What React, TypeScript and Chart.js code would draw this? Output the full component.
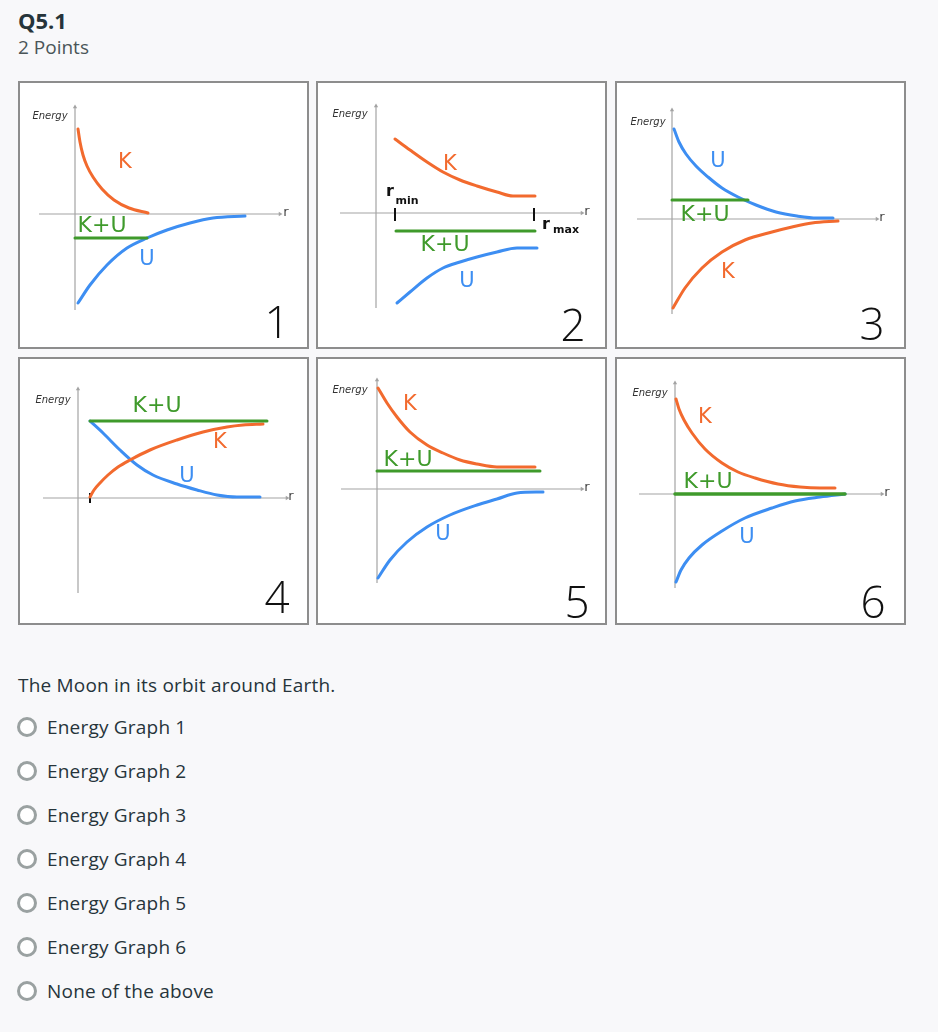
import React, { useEffect, useRef } from "react";
import { Chart, registerables } from "chart.js";

Chart.register(...registerables);

const ORANGE = "#f26a2e";
const BLUE = "#3d8ef2";
const GREEN = "#3f9a2b";
const AXIS = "#a3a3a3";
const INK = "#111111";

const LBL = "21px 'DejaVu Sans'";
const SUM_LBL = "22px 'DejaVu Sans'";
const ENERGY_FONT = "italic 10px 'DejaVu Sans'";
const NUM_FONT = "300 44px 'Open Sans'";
const R_FONT = "13px 'DejaVu Sans'";

// ---------- Graph 1 ----------
const p1K = [[3, 85], [5, 72], [8, 59], [12, 48], [18, 37], [27, 25], [39, 14], [54, 6], [73, 1]];
const p1U = [[3, -89], [15, -71], [32, -51], [52, -34], [72, -24], [92, -16], [115, -9], [138, -4], [170, -2]];
const p1E = [[0, -24], [72, -24]];
const p1Axes = [-36, 205, -96, 107];
const p1Origin = [55, 131];
const p1Labels = [
  ["K", 50, 51, ORANGE, LBL],
  ["K+U", 27, -12, GREEN, SUM_LBL],
  ["U", 72, -46, BLUE, LBL],
  ["1", 202, -111, INK, NUM_FONT],
  ["Energy", -25, 98, "#333", ENERGY_FONT],
  ["r", 211, 1, "#444", R_FONT],
];

// ---------- Graph 2 ----------
const p2K = [[19, 74], [34, 63], [51, 51], [67, 41], [84, 33], [101, 27], [121, 21], [137, 17], [147, 17], [159, 17]];
const p2U = [[21, -90], [34, -79], [51, -65], [67, -55], [84, -49], [101, -44], [121, -39], [141, -35], [161, -35]];
const p2E = [[20, -18], [159, -18]];
const p2Ticks = [[19, -8, 5], [158, -8, 5]];
const p2Axes = [-36, 206, -95, 107];
const p2Origin = [58, 130];
const p2Labels = [
  ["K", 74, 48, ORANGE, LBL],
  ["K+U", 69, -32, GREEN, SUM_LBL],
  ["U", 91, -69, BLUE, LBL],
  ["2", 197, -115, INK, NUM_FONT],
  ["Energy", -26, 99, "#333", ENERGY_FONT],
  ["r", 211, 1, "#444", R_FONT],
  ["r", 14, 21, INK, "bold 16px 'DejaVu Sans'"],
  ["min", 31, 12, INK, "bold 11px 'DejaVu Sans'"],
  ["r", 170, -12, INK, "bold 16px 'DejaVu Sans'"],
  ["max", 190, -17, INK, "bold 11px 'DejaVu Sans'"],
];

// ---------- Graph 3 ----------
const p3U = [[2, 90], [7, 77], [14, 65], [24, 53], [36, 42], [50, 31], [66, 22], [84, 14], [104, 7], [125, 3], [145, 1], [161, 1]];
const p3K = [[1, -89], [13, -69], [30, -49], [50, -33], [73, -21], [100, -13], [120, -8], [140, -4], [166, -2]];
const p3E = [[0, 19], [76, 19]];
const p3Axes = [-35, 205, -95, 109];
const p3Origin = [55, 136];
const p3Labels = [
  ["U", 46, 57, BLUE, LBL],
  ["K+U", 33, 4, GREEN, SUM_LBL],
  ["K", 56, -54, ORANGE, LBL],
  ["3", 200, -108, INK, NUM_FONT],
  ["Energy", -24, 97, "#333", ENERGY_FONT],
  ["r", 210, 1, "#444", R_FONT],
];

// ---------- Graph 4 ----------
const p4U = [[12, 77], [25, 65], [42, 48], [59, 33], [75, 23], [99, 14], [119, 8], [139, 3], [159, 1], [182, 1]];
const p4K = [[12, 1], [16, 8], [22, 15], [30, 23], [40, 31], [52, 38], [72, 48], [99, 58], [125, 66], [149, 71], [165, 73], [185, 74]];
const p4E = [[12, 77], [189, 77]];
const p4Ticks = [[12, -5, 5]];
const p4Axes = [-35, 209, -95, 109];
const p4Origin = [58, 139];
const p4Labels = [
  ["K+U", 79, 92, GREEN, SUM_LBL],
  ["K", 142, 55, ORANGE, LBL],
  ["U", 109, 21, BLUE, LBL],
  ["4", 199, -102, INK, NUM_FONT],
  ["Energy", -25, 98, "#333", ENERGY_FONT],
  ["r", 213, 1, "#444", R_FONT],
];

// ---------- Graph 5 ----------
const p5K = [[1, 101], [10, 86], [20, 72], [33, 57], [50, 44], [66, 36], [83, 29], [100, 25], [120, 22], [140, 22], [158, 22]];
const p5U = [[1, -89], [13, -71], [30, -53], [50, -38], [73, -26], [100, -16], [120, -10], [140, -4], [166, -3]];
const p5E = [[0, 18], [163, 18]];
const p5Axes = [-36, 205, -94, 109];
const p5Origin = [59, 130];
const p5Labels = [
  ["K", 33, 84, ORANGE, LBL],
  ["K+U", 31, 29, GREEN, SUM_LBL],
  ["U", 66, -46, BLUE, LBL],
  ["5", 200, -116, INK, NUM_FONT],
  ["Energy", -27, 99, "#333", ENERGY_FONT],
  ["r", 210, 1, "#444", R_FONT],
];

// ---------- Graph 6 ----------
const p6K = [[1, 95], [4, 85], [9, 74], [17, 61], [30, 45], [47, 31], [63, 22], [80, 16], [103, 10], [125, 7], [145, 6], [160, 6]];
const p6U = [[1, -88], [6, -76], [14, -64], [27, -51], [47, -37], [70, -24], [97, -14], [120, -7], [145, -3], [170, 0]];
const p6E = [[0, 0], [170, 0]];
const p6Axes = [-36, 207, -94, 111];
const p6Origin = [58, 135];
const p6Labels = [
  ["K", 30, 76, ORANGE, LBL],
  ["K+U", 33, 12, GREEN, SUM_LBL],
  ["U", 72, -44, BLUE, LBL],
  ["6", 198, -111, INK, NUM_FONT],
  ["Energy", -25, 101, "#333", ENERGY_FONT],
  ["r", 212, 1, "#444", R_FONT],
];

const OPTIONS = [
  "Energy Graph 1",
  "Energy Graph 2",
  "Energy Graph 3",
  "Energy Graph 4",
  "Energy Graph 5",
  "Energy Graph 6",
  "None of the above",
];

const PANEL_W = 291;
const PANEL_H = 268;
const BORDER = 2;
const CW = PANEL_W - 2 * BORDER;
const CH = PANEL_H - 2 * BORDER;

type Pair = number[];
type Label = (string | number)[];

interface PanelSpec {
  curves: { data: Pair[]; color: string; width?: number }[];
  ticks?: number[][];
  axes: number[];
  origin: number[];
  labels: Label[];
  left: number;
  top: number;
}

const labelPlugin = {
  id: "panelLabels",
  afterDatasetsDraw(chart: any, _args: any, opts: any) {
    const { ctx } = chart;
    const xs = chart.scales.x;
    const ys = chart.scales.y;
    ctx.save();
    ctx.textAlign = "center";
    ctx.textBaseline = "middle";
    for (const l of opts.items || []) {
      const [text, x, y, color, font] = l;
      ctx.font = font;
      ctx.fillStyle = color;
      ctx.fillText(text, xs.getPixelForValue(x), ys.getPixelForValue(y));
    }
    ctx.restore();
  },
};

function toPts(arr: Pair[]) {
  return arr.map(([x, y]) => ({ x, y }));
}

function Panel({ spec }: { spec: PanelSpec }) {
  const ref = useRef<HTMLCanvasElement | null>(null);
  useEffect(() => {
    if (!ref.current) return;
    const [ox, oy] = spec.origin;
    const [xLo, xHi, yLo, yHi] = spec.axes;
    const datasets: any[] = [];
    spec.curves.forEach((c) => {
      datasets.push({
        data: toPts(c.data),
        borderColor: c.color,
        borderWidth: c.width ?? 3,
        showLine: true,
        pointRadius: 0,
        cubicInterpolationMode: "monotone",
        borderCapStyle: "round",
        borderJoinStyle: "round",
        fill: false,
        clip: false,
      });
    });
    (spec.ticks || []).forEach(([tx, lo, hi]) => {
      datasets.push({
        data: [{ x: tx, y: lo }, { x: tx, y: hi }],
        borderColor: INK,
        borderWidth: 2,
        showLine: true,
        pointRadius: 0,
        clip: false,
      });
    });
    datasets.push({
      data: [{ x: xLo, y: 0 }, { x: xHi, y: 0 }],
      borderColor: AXIS,
      borderWidth: 1.2,
      showLine: true,
      pointRadius: [0, 2.5],
      pointStyle: "triangle",
      rotation: 90,
      pointBackgroundColor: AXIS,
      pointBorderColor: AXIS,
      pointBorderWidth: 0,
      clip: false,
    });
    datasets.push({
      data: [{ x: 0, y: yLo }, { x: 0, y: yHi }],
      borderColor: AXIS,
      borderWidth: 1.2,
      showLine: true,
      pointRadius: [0, 2.5],
      pointStyle: "triangle",
      rotation: 0,
      pointBackgroundColor: AXIS,
      pointBorderColor: AXIS,
      pointBorderWidth: 0,
      clip: false,
    });
    const chart = new Chart(ref.current, {
      type: "scatter",
      data: { datasets },
      options: {
        animation: false,
        responsive: false,
        events: [],
        layout: { padding: 0, autoPadding: false },
        scales: {
          x: { type: "linear", display: false, min: -ox, max: CW - ox },
          y: { type: "linear", display: false, min: -(CH - oy), max: oy },
        },
        plugins: {
          legend: { display: false },
          tooltip: { enabled: false },
          panelLabels: { items: spec.labels },
        } as any,
      },
      plugins: [labelPlugin],
    } as any);
    return () => chart.destroy();
  }, [spec]);
  return (
    <div
      style={{
        position: "absolute",
        left: spec.left,
        top: spec.top,
        width: PANEL_W,
        height: PANEL_H,
        boxSizing: "border-box",
        border: `${BORDER}px solid #8d8d8d`,
        background: "#ffffff",
      }}
    >
      <canvas ref={ref} width={CW} height={CH} style={{ display: "block", width: CW, height: CH }} />
    </div>
  );
}

const PANELS: PanelSpec[] = [
  {
    curves: [
      { data: p1E, color: GREEN },
      { data: p1K, color: ORANGE },
      { data: p1U, color: BLUE },
    ],
    axes: p1Axes, origin: p1Origin, labels: p1Labels, left: 18, top: 81,
  },
  {
    curves: [
      { data: p2E, color: GREEN },
      { data: p2K, color: ORANGE },
      { data: p2U, color: BLUE },
    ],
    ticks: p2Ticks,
    axes: p2Axes, origin: p2Origin, labels: p2Labels, left: 316, top: 81,
  },
  {
    curves: [
      { data: p3E, color: GREEN },
      { data: p3U, color: BLUE },
      { data: p3K, color: ORANGE },
    ],
    axes: p3Axes, origin: p3Origin, labels: p3Labels, left: 615, top: 81,
  },
  {
    curves: [
      { data: p4E, color: GREEN },
      { data: p4K, color: ORANGE },
      { data: p4U, color: BLUE },
    ],
    ticks: p4Ticks,
    axes: p4Axes, origin: p4Origin, labels: p4Labels, left: 18, top: 357,
  },
  {
    curves: [
      { data: p5E, color: GREEN },
      { data: p5K, color: ORANGE },
      { data: p5U, color: BLUE },
    ],
    axes: p5Axes, origin: p5Origin, labels: p5Labels, left: 316, top: 357,
  },
  {
    curves: [
      { data: p6E, color: GREEN, width: 3.5 },
      { data: p6K, color: ORANGE },
      { data: p6U, color: BLUE },
    ],
    axes: p6Axes, origin: p6Origin, labels: p6Labels, left: 615, top: 357,
  },
];

const FONT = "'Open Sans', Lato, sans-serif";

export default function App() {
  return (
    <div
      style={{
        position: "absolute",
        left: 0,
        top: 0,
        width: 938,
        height: 1032,
        background: "#f8f8fa",
        fontFamily: FONT,
        overflow: "hidden",
      }}
    >
      <div style={{ position: "absolute", left: 18, top: 7, fontSize: 22, lineHeight: "26px", fontWeight: 700, color: "#26343a" }}>
        Q5.1
      </div>
      <div style={{ position: "absolute", left: 18, top: 36, fontSize: 19, lineHeight: "22px", color: "#4a5558" }}>
        2 Points
      </div>
      {PANELS.map((p, i) => (
        <Panel key={i} spec={p} />
      ))}
      <div style={{ position: "absolute", left: 18, top: 674, fontSize: 19, lineHeight: "22px", color: "#26343a", letterSpacing: 0.2 }}>
        The Moon in its orbit around Earth.
      </div>
      {OPTIONS.map((o, i) => (
        <div
          key={o}
          style={{
            position: "absolute",
            left: 17,
            top: 716 + i * 44,
            height: 22,
            display: "flex",
            alignItems: "center",
            fontSize: 19,
            lineHeight: "22px",
            color: "#26343a",
            letterSpacing: 0.2,
          }}
        >
          <span
            style={{
              display: "inline-block",
              width: 20,
              height: 20,
              boxSizing: "border-box",
              borderRadius: "50%",
              border: "3px solid #9aa1a1",
              background: "#ffffff",
              marginRight: 10,
            }}
          />
          <span>{o}</span>
        </div>
      ))}
    </div>
  );
}
